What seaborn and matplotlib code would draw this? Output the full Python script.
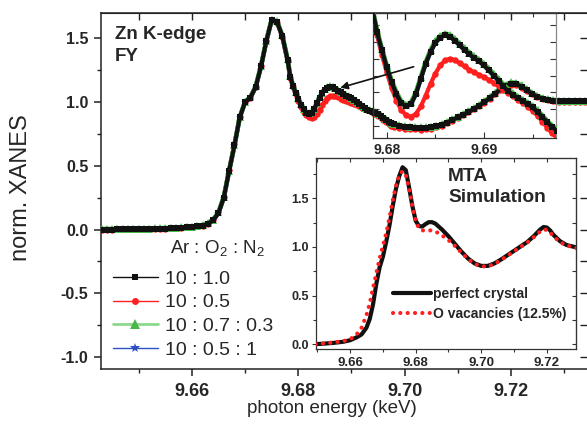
import matplotlib
matplotlib.use("Agg")
import matplotlib.pyplot as plt
import seaborn as sns
from matplotlib.lines import Line2D
from matplotlib.ticker import MultipleLocator, FormatStrFormatter

sns.set_style("ticks")
plt.rcParams["font.family"] = ["Liberation Sans", "DejaVu Sans"]
plt.rcParams["mathtext.fontset"] = "custom"
plt.rcParams["mathtext.rm"] = "Liberation Sans"
plt.rcParams["axes.unicode_minus"] = False

# ---------------- data: measured Zn K-edge FY XANES ----------------
energy = [
    9.643, 9.644, 9.645, 9.646, 9.647, 9.648, 9.649, 9.650, 9.651, 9.652,
    9.653, 9.654, 9.655, 9.656, 9.657, 9.658, 9.659, 9.660, 9.661, 9.662,
    9.663, 9.664, 9.665, 9.666, 9.667, 9.668, 9.669, 9.670, 9.671, 9.672,
    9.673, 9.674, 9.675, 9.676, 9.677, 9.678,
    9.6785, 9.679, 9.6795, 9.680, 9.6805, 9.681, 9.6815, 9.682, 9.6825, 9.683,
    9.6835, 9.684, 9.6845, 9.685, 9.6855, 9.686, 9.6865, 9.687, 9.6875, 9.688,
    9.6885, 9.689, 9.6895, 9.690, 9.6905, 9.691, 9.6915, 9.692, 9.6925, 9.693,
    9.6935, 9.694, 9.6945, 9.695, 9.6955, 9.696, 9.6965, 9.697, 9.6975,
    9.698, 9.699, 9.700, 9.701, 9.702, 9.703, 9.704, 9.705, 9.706, 9.707,
    9.708, 9.709, 9.710, 9.711, 9.712, 9.713, 9.714, 9.715, 9.716, 9.717,
    9.718, 9.719, 9.720, 9.721, 9.722, 9.723, 9.724, 9.725, 9.726, 9.727,
    9.728, 9.729, 9.730, 9.731, 9.732, 9.733, 9.734, 9.735,
]

ar10_o1 = [  # 10 : 1.0 (black)
    0.000, 0.000, 0.000, 0.001, 0.001, 0.002, 0.002, 0.003, 0.003, 0.004,
    0.005, 0.006, 0.007, 0.009, 0.011, 0.013, 0.016, 0.019, 0.024, 0.031,
    0.045, 0.072, 0.130, 0.250, 0.460, 0.660, 0.880, 1.000, 1.035, 1.120,
    1.280, 1.480, 1.645, 1.630, 1.520, 1.330,
    1.200, 1.130, 1.075, 1.025, 0.980, 0.945, 0.918, 0.908, 0.915, 0.945,
    0.990, 1.035, 1.070, 1.098, 1.113, 1.120, 1.116, 1.104, 1.090, 1.076,
    1.063, 1.052, 1.042, 1.030, 1.015, 1.000, 0.985, 0.968, 0.953, 0.942,
    0.933, 0.924, 0.915, 0.905, 0.892, 0.877, 0.861, 0.847, 0.836,
    0.827, 0.815, 0.808, 0.803, 0.800, 0.798, 0.798, 0.802, 0.810, 0.823,
    0.840, 0.860, 0.880, 0.900, 0.922, 0.946, 0.972, 1.000, 1.032, 1.066,
    1.100, 1.128, 1.145, 1.142, 1.122, 1.093, 1.065, 1.043, 1.027, 1.017,
    1.011, 1.008, 1.006, 1.006, 1.007, 1.007, 1.006, 1.005,
]

ar10_o05 = [  # 10 : 0.5 (red)
    0.000, 0.000, 0.000, 0.001, 0.001, 0.002, 0.002, 0.003, 0.003, 0.004,
    0.005, 0.006, 0.007, 0.009, 0.011, 0.013, 0.016, 0.019, 0.024, 0.031,
    0.046, 0.075, 0.135, 0.258, 0.470, 0.670, 0.885, 1.000, 1.032, 1.118,
    1.282, 1.483, 1.645, 1.625, 1.510, 1.320,
    1.190, 1.120, 1.062, 1.010, 0.963, 0.925, 0.897, 0.882, 0.877, 0.886,
    0.908, 0.940, 0.975, 1.006, 1.030, 1.045, 1.050, 1.046, 1.037, 1.027,
    1.017, 1.009, 1.002, 0.995, 0.987, 0.978, 0.968, 0.958, 0.948, 0.938,
    0.928, 0.918, 0.907, 0.895, 0.880, 0.863, 0.845, 0.828, 0.815,
    0.806, 0.797, 0.792, 0.788, 0.786, 0.785, 0.787, 0.792, 0.802, 0.816,
    0.834, 0.855, 0.876, 0.897, 0.919, 0.943, 0.969, 0.997, 1.028, 1.061,
    1.094, 1.120, 1.136, 1.134, 1.115, 1.088, 1.061, 1.040, 1.024, 1.014,
    1.008, 1.005, 1.003, 1.003, 1.004, 1.004, 1.003, 1.002,
]

ar10_o07_n03 = [  # 10 : 0.7 : 0.3 (green)
    0.004, 0.004, 0.004, 0.005, 0.005, 0.006, 0.006, 0.007, 0.007, 0.008,
    0.009, 0.010, 0.011, 0.013, 0.015, 0.017, 0.020, 0.023, 0.028, 0.036,
    0.050, 0.078, 0.136, 0.255, 0.463, 0.662, 0.882, 1.003, 1.040, 1.125,
    1.285, 1.484, 1.648, 1.634, 1.525, 1.336,
    1.205, 1.134, 1.080, 1.030, 0.985, 0.950, 0.923, 0.913, 0.920, 0.950,
    0.995, 1.040, 1.075, 1.103, 1.118, 1.125, 1.121, 1.109, 1.095, 1.081,
    1.068, 1.057, 1.047, 1.035, 1.020, 1.005, 0.990, 0.973, 0.958, 0.947,
    0.937, 0.928, 0.919, 0.909, 0.896, 0.881, 0.865, 0.851, 0.840,
    0.831, 0.819, 0.812, 0.807, 0.804, 0.802, 0.802, 0.806, 0.814, 0.827,
    0.844, 0.864, 0.884, 0.905, 0.927, 0.951, 0.977, 1.006, 1.038, 1.073,
    1.108, 1.137, 1.155, 1.152, 1.132, 1.101, 1.072, 1.049, 1.032, 1.022,
    1.016, 1.013, 1.011, 1.011, 1.012, 1.012, 1.011, 1.010,
]

ar10_o05_n1 = [  # 10 : 0.5 : 1 (blue)
    0.000, 0.000, 0.000, 0.001, 0.001, 0.002, 0.002, 0.003, 0.003, 0.004,
    0.005, 0.006, 0.007, 0.009, 0.011, 0.013, 0.016, 0.019, 0.024, 0.031,
    0.045, 0.072, 0.130, 0.250, 0.460, 0.660, 0.880, 1.000, 1.035, 1.120,
    1.280, 1.480, 1.645, 1.630, 1.520, 1.330,
    1.200, 1.130, 1.075, 1.025, 0.980, 0.945, 0.918, 0.908, 0.915, 0.945,
    0.990, 1.035, 1.070, 1.098, 1.113, 1.120, 1.116, 1.104, 1.090, 1.076,
    1.063, 1.052, 1.042, 1.030, 1.015, 1.000, 0.985, 0.968, 0.953, 0.942,
    0.933, 0.924, 0.915, 0.905, 0.892, 0.877, 0.861, 0.847, 0.836,
    0.827, 0.815, 0.808, 0.803, 0.800, 0.798, 0.798, 0.802, 0.810, 0.823,
    0.840, 0.860, 0.880, 0.900, 0.922, 0.946, 0.972, 1.000, 1.032, 1.066,
    1.100, 1.128, 1.145, 1.142, 1.122, 1.093, 1.065, 1.043, 1.027, 1.017,
    1.011, 1.008, 1.006, 1.006, 1.007, 1.007, 1.006, 1.005,
]

legend_labels = ["10 : 1.0", "10 : 0.5", "10 : 0.7 : 0.3", "10 : 0.5 : 1"]

# ---------------- data: MTA simulation ----------------
mta_energy = [
    9.6495, 9.652, 9.655, 9.658, 9.660, 9.662, 9.6635, 9.665, 9.666, 9.667,
    9.668, 9.669, 9.670, 9.671, 9.672, 9.673, 9.674, 9.675, 9.676, 9.677,
    9.678, 9.679, 9.680, 9.681, 9.682, 9.683, 9.684, 9.685, 9.686, 9.688,
    9.690, 9.692, 9.694, 9.696, 9.698, 9.700, 9.702, 9.704, 9.706, 9.708,
    9.710, 9.712, 9.714, 9.716, 9.718, 9.719, 9.720, 9.721, 9.722, 9.724,
    9.726, 9.729,
]
perfect_crystal = [
    0.0, 0.005, 0.013, 0.025, 0.04, 0.07, 0.10, 0.17, 0.26, 0.41,
    0.62, 0.79, 0.90, 1.05, 1.22, 1.42, 1.60, 1.73, 1.82, 1.79,
    1.61, 1.42, 1.27, 1.215, 1.21, 1.235, 1.255, 1.255, 1.24, 1.18,
    1.11, 1.03, 0.95, 0.88, 0.83, 0.805, 0.805, 0.83, 0.87, 0.915,
    0.96, 1.005, 1.05, 1.11, 1.18, 1.205, 1.20, 1.17, 1.125, 1.06,
    1.02, 0.995,
]
o_vacancies = [
    0.0, 0.008, 0.018, 0.032, 0.05, 0.10, 0.17, 0.30, 0.42, 0.58,
    0.73, 0.88, 1.01, 1.14, 1.30, 1.48, 1.63, 1.74, 1.78, 1.74,
    1.60, 1.42, 1.27, 1.19, 1.17, 1.17, 1.17, 1.17, 1.16, 1.12,
    1.07, 1.01, 0.94, 0.875, 0.825, 0.80, 0.80, 0.825, 0.865, 0.91,
    0.955, 1.0, 1.045, 1.10, 1.16, 1.18, 1.175, 1.15, 1.11, 1.05,
    1.015, 0.99,
]
mta_labels = ["perfect crystal", "O vacancies (12.5%)"]

# ---------------- figure ----------------
W, H = 587, 440
fig = plt.figure(figsize=(W / 100, H / 100), dpi=100)


def px_axes(l, t, r, b):
    return fig.add_axes([l / W, 1 - b / H, (r - l) / W, (b - t) / H])


def fx(x):
    return x / W


def fy(y):
    return 1 - y / H


BLACK, RED, GREEN, BLUE = "#111111", "#ff1f1f", "#49b849", "#2c4fc4"
styles = [
    (ar10_o05, RED, "o", 4.6, 3.0, 2),
    (ar10_o05_n1, BLUE, "*", 6.0, 3.2, 3),
    (ar10_o07_n03, GREEN, "^", 5.6, 3.4, 4),
    (ar10_o1, BLACK, "s", 4.4, 3.0, 5),
]


def draw_measured(axis):
    for vals, col, mk, ms, lw, z in styles:
        sns.lineplot(x=energy, y=vals, ax=axis, color=col, marker=mk,
                     markersize=ms, markeredgewidth=0, linewidth=lw,
                     zorder=z, legend=False, errorbar=None, sort=False)


def bold_ticks(axis):
    for lbl in axis.get_xticklabels() + axis.get_yticklabels():
        lbl.set_fontweight("bold")


# ---- main axes ----
ax = px_axes(101, 13, 588, 369)
draw_measured(ax)
ax.set_xlim(9.6429, 9.7345)
ax.set_ylim(-1.095, 1.70)
ax.xaxis.set_major_locator(MultipleLocator(0.02))
ax.xaxis.set_minor_locator(MultipleLocator(0.01))
ax.yaxis.set_major_locator(MultipleLocator(0.5))
ax.yaxis.set_minor_locator(MultipleLocator(0.25))
ax.xaxis.set_major_formatter(FormatStrFormatter("%.2f"))
ax.yaxis.set_major_formatter(FormatStrFormatter("%.1f"))
ax.tick_params(axis="both", which="major", direction="out", length=5, width=1.1,
               color="#222222")
ax.tick_params(axis="both", which="minor", direction="out", length=3, width=1.0,
               color="#222222")
ax.tick_params(axis="x", labelsize=13, pad=5)
ax.tick_params(axis="y", labelsize=11.5, pad=4)
for sp in ax.spines.values():
    sp.set_linewidth(1.1)
    sp.set_color("#222222")
bold_ticks(ax)

sec_top = ax.secondary_xaxis("top")
sec_top.xaxis.set_major_locator(MultipleLocator(0.01))
sec_top.tick_params(direction="in", length=5, width=1.0, labeltop=False, color="#222222")
sec_right = ax.secondary_yaxis("right")
sec_right.yaxis.set_major_locator(MultipleLocator(0.25))
sec_right.tick_params(direction="in", length=6, width=1.0, labelright=False, color="#222222")

ax.set_xlabel("photon energy (keV)", fontsize=13.5)
ax.xaxis.set_label_coords((332 - 101) / 487, -(400 - 369) / 356)
ax.xaxis.label.set_va("top")
ax.set_ylabel("norm. XANES", fontsize=17)
ax.yaxis.set_label_coords(-(101 - 32) / 487, (369 - 188) / 356)

fig.text(fx(115), fy(26), "Zn K-edge\nFY", fontsize=13.5, fontweight="bold",
         ha="left", va="top", linespacing=1.42)

# main legend
fig.text(fx(170), fy(254), "Ar : O$_2$ : N$_2$", fontsize=13.5, ha="left", va="baseline")
handles = [
    Line2D([], [], color=BLACK, lw=1.0, marker="s", markersize=4, markeredgewidth=0),
    Line2D([], [], color=RED, lw=1.0, marker="o", markersize=5, markeredgewidth=0),
    Line2D([], [], color="#8ed88e", lw=2.0, marker="^", markersize=7,
           markerfacecolor=GREEN, markeredgewidth=0),
    Line2D([], [], color=BLUE, lw=1.0, marker="*", markersize=7, markeredgewidth=0),
]
ax.legend(handles, legend_labels, loc="upper left",
          bbox_to_anchor=(fx(113), fy(270)), bbox_transform=fig.transFigure,
          frameon=False, fontsize=14, handlelength=2.3, handletextpad=0.35,
          labelspacing=0.32, borderpad=0, borderaxespad=0)

# ---- zoom inset (transparent) ----
axz = px_axes(373.3, 13, 555.7, 137.7)
axz.set_facecolor("none")
draw_measured(axz)
axz.set_xlim(9.67862, 9.69737)
axz.set_ylim(0.815, 1.186)
axz.xaxis.set_major_locator(MultipleLocator(0.01))
axz.xaxis.set_minor_locator(MultipleLocator(0.005))
axz.yaxis.set_major_locator(MultipleLocator(0.05))
axz.xaxis.set_major_formatter(FormatStrFormatter("%.2f"))
axz.tick_params(which="both", direction="in", top=True, right=True,
                labelleft=False, color="#333333", width=0.8)
axz.tick_params(which="major", length=4)
axz.tick_params(which="minor", length=3)
axz.tick_params(axis="x", labelsize=10, pad=4)
axz.set_xlabel("")
axz.set_ylabel("")
for sp in axz.spines.values():
    sp.set_linewidth(0.9)
    sp.set_color("#333333")
axz.spines["right"].set_color("#888888")
bold_ticks(axz)

# arrow from inset to the feature in the main plot
arr = axz.annotate("", xy=(9.6879, 1.113), xycoords=ax.transData,
                   xytext=(9.7017, 1.278), textcoords=ax.transData,
                   arrowprops=dict(arrowstyle="-|>", color="#111111", lw=1.2,
                                   mutation_scale=11, shrinkA=0, shrinkB=0),
                   annotation_clip=False)
arr.set_clip_on(False)
arr.set_zorder(10)

# ---- MTA simulation inset ----
axm = px_axes(316, 158, 576, 349)
axm.set_facecolor("white")
sns.lineplot(x=mta_energy, y=perfect_crystal, ax=axm, color="#111111",
             linewidth=3.0, legend=False, errorbar=None, sort=False, zorder=3)
sns.lineplot(x=mta_energy, y=o_vacancies, ax=axm, color="#ff1f1f",
             linewidth=3.0, linestyle=(0, (0.01, 1.75)), dash_capstyle="round",
             legend=False, errorbar=None, sort=False, zorder=4)
axm.set_xlim(9.6496, 9.7289)
axm.set_ylim(-0.05, 1.915)
axm.xaxis.set_major_locator(MultipleLocator(0.02))
axm.xaxis.set_minor_locator(MultipleLocator(0.01))
axm.yaxis.set_major_locator(MultipleLocator(0.5))
axm.yaxis.set_minor_locator(MultipleLocator(0.25))
axm.xaxis.set_major_formatter(FormatStrFormatter("%.2f"))
axm.yaxis.set_major_formatter(FormatStrFormatter("%.1f"))
axm.tick_params(which="both", direction="out", color="#333333", width=0.8)
axm.tick_params(which="major", length=3)
axm.tick_params(which="minor", length=2)
axm.tick_params(axis="x", labelsize=9.5, pad=3)
axm.tick_params(axis="y", labelsize=9, pad=2)
axm.set_xlabel("")
axm.set_ylabel("")
for sp in axm.spines.values():
    sp.set_linewidth(0.9)
    sp.set_color("#333333")
bold_ticks(axm)
mt = axm.secondary_xaxis("top")
mt.xaxis.set_major_locator(MultipleLocator(0.01))
mt.tick_params(direction="in", length=3, width=0.8, labeltop=False, color="#333333")
mr = axm.secondary_yaxis("right")
mr.yaxis.set_major_locator(MultipleLocator(0.25))
mr.tick_params(direction="in", length=3, width=0.8, labelright=False, color="#333333")

fig.text(fx(448), fy(168), "MTA\nSimulation", fontsize=13.8, fontweight="bold",
         ha="left", va="top", linespacing=1.28)
mta_handles = [
    Line2D([], [], color="#111111", lw=3.0),
    Line2D([], [], color="#ff1f1f", lw=3.0, linestyle=(0, (0.01, 1.75)),
           dash_capstyle="round"),
]
axm.legend(mta_handles, mta_labels, loc="upper left",
           bbox_to_anchor=(fx(393), fy(287)), bbox_transform=fig.transFigure,
           frameon=False, prop={"weight": "bold", "size": 10},
           handlelength=2.7, handletextpad=0.2, labelspacing=0.45,
           borderpad=0, borderaxespad=0)

fig.savefig("out.png", dpi=100)
